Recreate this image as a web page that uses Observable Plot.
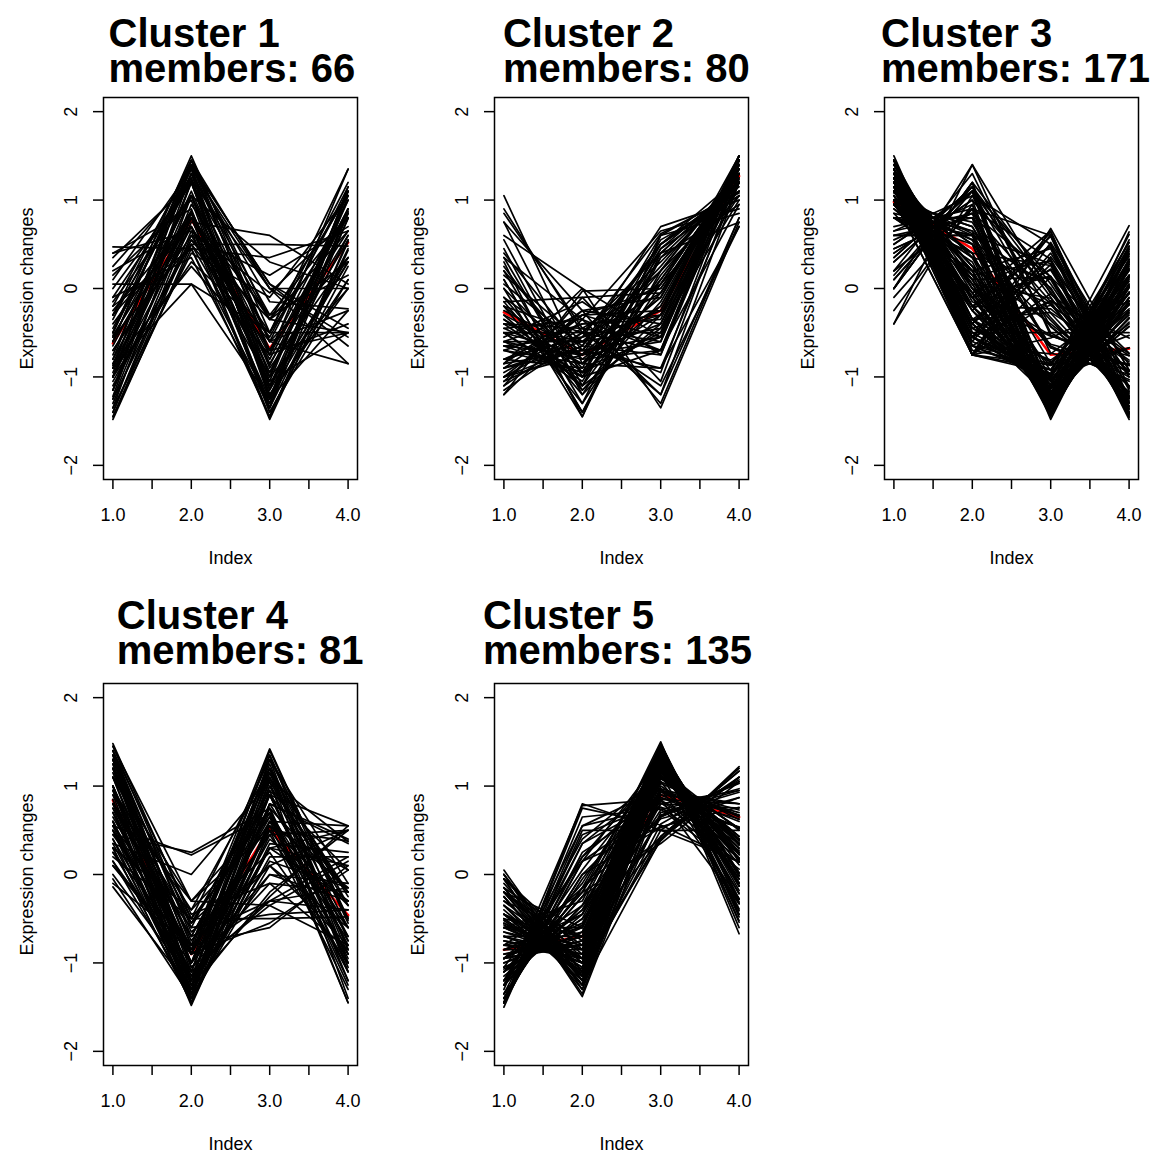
<!DOCTYPE html>
<html>
<head>
<meta charset="utf-8">
<script src="https://cdn.jsdelivr.net/npm/d3@7"></script>
<script src="https://cdn.jsdelivr.net/npm/@observablehq/plot@0.6"></script>
<style>
  html, body { margin: 0; padding: 0; background: #fff; }
  #wrap { position: relative; width: 1171px; height: 1153px; overflow: hidden; background: #fff; }
</style>
</head>
<body>
<div id="wrap"></div>
<script>
// Time points (Index)
const xs = [1, 2, 3, 4];
const xTicks = [1, 1.5, 2, 2.5, 3, 3.5, 4];
const yTicks = [-2, -1, 0, 1, 2];
const clusterNames = ["Cluster 1", "Cluster 2", "Cluster 3", "Cluster 4", "Cluster 5"];
const memberCounts = [66, 80, 171, 81, 135];

// Centroid (red) line for each cluster
const centroids = [
  [-0.62, 0.78, -0.68, 0.52],
  [-0.27, -0.75, -0.25, 1.27],
  [0.98, 0.45, -0.75, -0.68],
  [0.84, -0.9, 0.52, -0.46],
  [-0.85, -0.7, 0.9, 0.65]
];

// Member profiles, cluster 1
const cluster1 = [
  [-0.5,1.5,-0.5,-0.5],[-0.6,1.45,-0.6,-0.25],[-0.85,1.1,-0.85,0.6],[-1.48,0.5,0.5,0.48],[-1.3,0.8,-0.3,0.8],
  [-0.9,0.05,-0.5,1.35],[-1.1,0.55,-0.55,1.1],[-0.3,1.2,-1.2,0.3],[-0.87,0.87,-0.87,0.87],[-0.53,0.88,-1.14,0.79],
  [-1.0,0.3,-0.5,1.2],[0.47,0.45,-1.45,0.53],[0.4,0.9,-1.4,0.1],[0.15,1.0,-1.4,0.25],[-0.1,1.22,-1.22,0.1],
  [-1.35,1.05,0.3,0.0],[-1.22,1.22,0.0,0.0],[-1.4,0.75,0.6,0.05],[-1.0,1.4,0.05,-0.45],[-0.9,1.45,0.0,-0.55],
  [0.1,1.35,-0.6,-0.85],[-0.2,1.4,-0.7,-0.5],[-1.45,0.45,0.35,0.65],[-1.25,0.95,-0.35,0.65],[-1.0,1.05,-0.7,0.65],
  [-0.7,0.6,-1.0,1.1],[-0.4,0.8,-1.3,0.9],[-0.2,0.45,-1.3,1.05],[-0.85,0.25,-0.75,1.35],[0.2,0.7,-1.45,0.55],
  [0.4,0.65,-1.48,0.43],[-0.5,1.3,-1.1,0.3],[-0.3,1.45,-0.75,-0.4],[0.0,1.2,-1.2,0.0],[-1.35,0.4,-0.1,1.05],
  [-1.45,0.6,0.15,0.7],[-1.0,1.38,-0.15,-0.23],[-0.8,1.4,0.05,-0.65],[-1.15,1.2,-0.35,0.3],[-0.6,1.45,-0.35,-0.5],
  [-1.15,0.8,-0.5,0.85],[-0.3,0.7,-1.25,0.85],[0.05,0.05,-1.25,1.15],[-0.1,0.35,-1.35,1.1],[-0.8,0.85,-0.95,0.9],
  [-1.05,0.5,-0.6,1.15],[-0.5,1.35,0.0,-0.85],[0.35,1.2,-1.05,-0.5],[-0.65,1.05,-0.95,0.55],[-1.0,0.7,-0.7,1.0],
  [-0.7,0.7,-1.0,1.0],[-0.25,0.8,-1.35,0.8],[-0.55,1.05,-1.1,0.6],[-1.0,0.85,-0.75,0.9],[-1.25,0.55,-0.35,1.05],
  [-0.45,1.25,-1.15,0.35],[-0.75,1.3,-0.9,0.35],[-0.95,1.2,-0.6,0.35],[-1.15,1.3,-0.3,0.15],[-0.15,1.05,-1.35,0.45],
  [-0.55,0.5,-1.05,1.1],[-1.4,0.65,-0.05,0.8],[0.25,1.25,-1.25,-0.25],[-0.35,1.35,-1.0,0.0],[-0.9,0.8,-0.8,0.9],
  [-0.6,0.85,-1.1,0.85]
];

// Member profiles, cluster 2
const cluster2 = [
  [-0.5,-0.5,-0.5,1.5],[-0.4,-0.6,-0.45,1.45],[-0.7,-0.4,-0.35,1.45],[-0.3,-0.75,-0.4,1.45],[-0.6,-0.6,-0.25,1.45],
  [0.3,-1.45,0.4,0.75],[0.1,-1.4,0.2,1.1],[-0.15,-1.2,0.15,1.2],[0.0,-1.45,0.6,0.85],[-0.4,-1.0,0.1,1.3],
  [1.05,-0.85,-0.9,0.7],[0.9,-0.5,-1.1,0.7],[0.75,-0.25,-1.3,0.8],[0.6,0.0,-1.35,0.75],[0.55,-1.1,-0.45,1.0],
  [0.2,-0.8,-0.7,1.3],[-0.9,-0.7,0.5,1.1],[-1.05,-0.65,0.7,1.0],[-1.2,-0.35,0.65,0.9],[-0.8,-0.9,0.6,1.1],
  [-0.6,-1.0,0.55,1.05],[-1.1,-0.5,0.4,1.2],[-1.0,-0.3,0.0,1.3],[-0.9,-0.6,0.2,1.3],[-1.1,-0.1,-0.05,1.25],
  [-0.85,0.0,-0.55,1.4],[-1.2,-0.03,0.0,1.23],[-0.35,-0.85,-0.3,1.5],[0.0,-0.9,-0.55,1.45],[-0.2,-0.5,-0.7,1.4],
  [-0.45,-0.85,-0.1,1.4],[-0.65,-0.75,0.05,1.35],[0.4,-0.7,-0.9,1.2],[0.15,-0.6,-0.95,1.4],[-0.45,-0.35,-0.7,1.5],
  [0.45,-1.2,-0.3,1.05],[0.2,-1.3,0.05,1.05],[-0.5,-1.05,0.35,1.2],[-0.2,-0.95,-0.2,1.35],[0.85,-0.45,-1.2,0.8],
  [-1.15,-0.55,0.62,1.08],[-0.85,-0.7,0.25,1.3],[-0.8,-0.4,-0.3,1.5],[-0.35,-1.0,-0.05,1.4],[0.35,-0.35,-1.2,1.2],
  [-0.1,-1.15,-0.15,1.4],[-1.05,-0.25,-0.1,1.4],[-0.55,-0.15,-0.75,1.45],[0.75,-1.0,-0.7,0.95],[-0.2,-1.3,0.45,1.05],
  [-0.95,-0.45,0.05,1.35],[0.05,-0.65,-0.75,1.35],[-0.65,-0.95,0.4,1.2],[-0.15,-0.1,-1.05,1.3],
  [-0.6,-0.8,-0.1,1.5],[-0.8,-0.55,-0.05,1.4],[-0.5,-0.75,-0.2,1.45],[-0.7,-0.85,0.2,1.35],[-1.0,-0.5,0.3,1.2],
  [-0.3,-1.1,0.1,1.3],[0.25,-0.95,-0.5,1.2],[-0.1,-0.75,-0.6,1.45],[-0.65,-0.55,-0.3,1.5],[-0.9,-0.3,-0.25,1.45],
  [-0.7,-0.95,0.45,1.2],[-0.5,-1.1,0.5,1.1],[0.1,-1.4,0.35,0.95],[-0.25,-0.7,-0.55,1.5],[-1.0,-0.75,0.5,1.25],
  [-0.85,-0.25,-0.4,1.5],[-0.4,-0.45,-0.6,1.45],[0.35,-1.15,-0.4,1.2],[-1.0,-0.65,0.5,1.15],[-0.6,-0.3,-0.55,1.45]
];

// Member profiles, cluster 3
const cluster3 = [
  [1.5,-0.5,-0.5,-0.5],[1.0,0.7,-0.67,-1.03],[1.0,0.7,-1.03,-0.67],[0.65,1.05,-0.73,-0.97],[1.08,0.62,-0.85,-0.85],
  [1.1,0.5,-0.43,-1.17],[1.1,0.5,-1.17,-0.43],[0.5,1.1,-0.43,-1.17],[0.5,1.1,-1.17,-0.43],[1.25,0.35,-0.67,-0.93],
  [1.25,0.35,-0.93,-0.67],[0.8,0.8,-0.33,-1.27],[0.8,0.8,-1.27,-0.33],[1.25,0.25,-0.4,-1.1],[1.25,0.25,-1.1,-0.4],
  [0.95,0.55,-0.17,-1.33],[0.95,0.55,-1.33,-0.17],[0.35,1.15,-0.28,-1.22],[0.35,1.15,-1.22,-0.28],[1.35,0.15,-0.63,-0.87],
  [1.2,0.2,-0.18,-1.22],[1.2,0.2,-1.22,-0.18],[0.4,1.0,-0.04,-1.36],[0.4,1.0,-1.36,-0.04],[1.4,0.0,-0.53,-0.87],
  [1.4,0.0,-0.87,-0.53],[0.8,0.6,0.01,-1.41],[0.8,0.6,-1.41,0.01],[0.0,1.4,-0.53,-0.87],[1.25,0.05,-0.11,-1.19],
  [1.25,0.05,-1.19,-0.11],[0.95,0.35,0.1,-1.4],[0.95,0.35,-1.4,0.1],[1.45,-0.15,-0.54,-0.76],[0.15,1.15,-0.01,-1.29],
  [1.4,-0.2,-0.23,-0.97],[1.4,-0.2,-0.97,-0.23],[1.1,0.1,0.13,-1.33],[1.1,0.1,-1.33,0.13],[0.6,0.6,0.28,-1.48],
  [0.6,0.6,-1.48,0.28],[0.1,1.1,0.13,-1.33],[0.1,1.1,-1.33,0.13],[0.8,0.4,0.26,-1.46],[1.45,-0.35,-0.27,-0.83],
  [1.45,-0.35,-0.83,-0.27],[1.2,-0.1,0.14,-1.24],[1.2,-0.1,-1.24,0.14],[0.95,0.15,0.31,-1.41],[0.95,0.15,-1.41,0.31],
  [1.45,-0.45,-0.19,-0.81],[1.45,-0.45,-0.81,-0.19],[1.2,-0.2,0.21,-1.21],[1.2,-0.2,-1.21,0.21],[0.8,0.2,0.45,-1.45],
  [0.8,0.2,-1.45,0.45],[-0.4,1.4,-0.06,-0.94],[1.45,-0.55,-0.14,-0.76],[1.25,-0.35,0.22,-1.12],[1.25,-0.35,-1.12,0.22],
  [0.95,-0.05,0.47,-1.37],[0.95,-0.05,-1.37,0.47],[1.45,-0.65,-0.06,-0.74],[1.45,-0.65,-0.74,-0.06],[1.2,-0.4,0.33,-1.13],
  [1.2,-0.4,-1.13,0.33],[1.0,-0.2,0.49,-1.29],[1.45,-0.75,-0.14,-0.56],[1.45,-0.75,-0.56,-0.14],[1.25,-0.55,0.27,-0.97],
  [1.25,-0.55,-0.97,0.27],[0.95,-0.25,0.59,-1.29],[1.35,-0.75,0.13,-0.73],[1.2,-0.6,0.4,-1.0],[1.2,-0.6,-1.0,0.4],
  [1.0,-0.4,0.64,-1.24],[1.0,-0.4,-1.24,0.64],[1.25,-0.75,0.36,-0.86],[1.25,-0.75,-0.86,0.36],[1.05,-0.55,0.61,-1.11],
  [1.05,-0.55,-1.11,0.61],[1.15,-0.75,0.52,-0.92],[1.15,-0.75,-0.92,0.52],[1.0,-0.75,0.68,-0.93],[1.0,-0.75,-0.96,0.71],
  [-0.4,1.05,0.5,-1.15],[-0.25,0.95,-1.25,0.55],[-0.1,0.9,0.6,-1.4],[0.0,1.2,-1.35,0.15],[0.2,1.3,-0.5,-1.0],
  [0.85,-0.1,0.65,-1.4],[0.0,1.2,0.05,-1.25],[0.0,1.2,-1.25,0.05],[0.2,0.9,0.33,-1.43],[0.2,0.9,-1.43,0.33],
  [0.3,1.1,-0.1,-1.3],[0.3,1.1,-1.3,-0.1],[0.45,0.85,0.13,-1.43],[0.45,0.85,-1.43,0.13],
  [0.85,0.65,-1.35,-0.15],[1.1,0.4,-1.25,-0.25],[1.0,0.4,-1.36,-0.04],[1.3,0.1,-1.1,-0.3],[1.1,0.2,-1.32,0.02],
  [1.3,-0.1,-1.14,-0.06],[1.35,-0.25,-1.05,-0.05],[1.35,-0.35,-1.03,0.03],[1.35,-0.45,-0.98,0.08],[1.35,-0.55,-0.92,0.12],
  [1.35,-0.65,-0.85,0.15],[1.3,-0.7,-0.87,0.27],[1.0,0.6,-1.22,-0.38],[0.7,0.9,-1.26,-0.34],[0.55,0.95,-1.33,-0.17],
  [0.6,0.8,-1.41,0.01],[0.8,0.5,-1.44,0.14],[0.9,0.3,-1.43,0.23],[1.05,0.05,-1.35,0.25],[1.1,-0.1,-1.3,0.3],
  [1.15,-0.25,-1.23,0.33],[1.15,-0.35,-1.19,0.39],[1.25,-0.55,-1.0,0.3],[1.25,-0.65,-0.98,0.38],[1.15,-0.65,-1.02,0.52],
  [1.15,0.25,-1.26,-0.14],[1.35,-0.05,-1.05,-0.25],[1.2,0.0,-1.25,0.05],[0.9,0.1,-1.42,0.42],[1.0,-0.1,-1.34,0.44],
  [1.1,-0.4,-1.18,0.48],[1.15,-0.55,-1.08,0.48],[1.3,-0.2,-1.13,0.03],[1.3,-0.4,-1.05,0.15],[1.3,-0.5,-1.0,0.2],
  [0.95,0.75,-0.65,-1.05],[0.95,0.65,-0.36,-1.24],[0.65,0.85,-0.15,-1.35]
];

// Member profiles, cluster 4
const cluster4 = [
  [1.48,-0.5,-0.5,-0.48],[1.4,-0.7,-0.3,-0.4],[1.3,-1.0,0.0,-0.3],[1.2,-1.2,0.3,-0.3],[0.9,-1.35,0.6,-0.15],
  [0.6,-1.48,0.5,0.38],[0.5,-1.45,0.45,0.5],[0.6,-1.3,0.9,-0.2],[0.25,-1.2,1.2,-0.25],[-0.1,-0.8,1.42,-0.52],
  [0.1,-1.0,1.4,-0.5],[0.4,-1.1,1.2,-0.5],[0.8,-0.9,0.9,-0.8],[0.9,-0.55,0.75,-1.1],[0.8,-0.55,0.95,-1.2],
  [0.55,-0.6,1.1,-1.05],[0.3,-0.4,1.2,-1.1],[0.45,0.25,0.75,-1.45],[0.35,0.0,1.05,-1.4],[0.55,0.22,0.68,-1.45],
  [1.1,-0.3,0.5,-1.3],[1.3,-0.55,0.25,-1.0],[1.45,-0.6,-0.45,-0.4],[1.35,-0.9,-0.3,-0.15],[1.2,-1.1,-0.3,0.2],
  [1.0,-1.3,-0.2,0.5],[0.8,-1.4,0.1,0.5],[0.95,-1.25,-0.25,0.55],[0.6,-1.4,0.3,0.5],[0.3,-1.45,0.6,0.55],
  [-0.14,-1.3,1.07,0.37],[0.0,-1.2,1.3,-0.1],[0.1,-0.9,1.35,-0.55],[0.5,-1.2,1.05,-0.35],[0.7,-1.0,1.0,-0.7],
  [1.0,-1.0,0.7,-0.7],[1.1,-1.2,0.4,-0.3],[1.3,-0.8,0.1,-0.6],[1.0,-0.9,0.65,-0.75],[0.8,-0.3,0.7,-1.2],
  [0.45,-0.8,1.2,-0.85],[1.3,-0.8,-0.6,0.1],[1.4,-0.9,-0.55,0.05],[1.25,-1.05,-0.35,0.15],[0.2,-0.5,1.3,-1.0],
  [0.85,-1.45,0.35,0.25],[1.0,-1.4,0.2,0.2],[0.3,-1.45,0.8,0.35],[0.75,-0.7,0.9,-0.95],[0.15,-1.1,1.3,-0.35],
  [1.45,-0.3,-0.35,-0.8],[0.55,-1.35,1.0,-0.2],[1.2,-0.75,0.45,-0.9],[-0.05,-1.4,0.9,0.55],
  [1.1,-1.0,0.5,-0.6],[1.25,-1.25,0.15,-0.15],[0.95,-1.15,0.8,-0.6],[0.7,-1.25,0.75,-0.2],[1.15,-0.85,0.6,-0.9],
  [0.6,-1.1,1.1,-0.6],[0.35,-1.3,1.15,-0.2],[1.0,-1.4,0.3,0.1],[1.35,-0.65,0.1,-0.8],[1.35,-1.05,-0.1,-0.2],
  [0.75,-1.35,0.55,0.05],[0.5,-0.9,1.25,-0.85],[0.8,-0.7,0.9,-1.0],[0.25,-0.85,1.35,-0.75],[1.0,-1.2,0.55,-0.35],
  [0.65,-0.9,1.15,-0.9],[1.4,-0.45,-0.1,-0.85],[1.1,-0.5,0.65,-1.25],[0.4,-1.4,0.95,0.05],[1.3,-1.2,0.0,-0.1],
  [0.15,-1.35,0.8,0.4],[0.95,-0.4,0.55,-1.1]
];

// Member profiles, cluster 5
const cluster5 = [
  [-0.7,-1.0,1.03,0.67],[-0.7,-1.0,0.67,1.03],[-1.05,-0.65,0.97,0.73],[-1.05,-0.65,0.73,0.97],[-0.85,-0.85,1.08,0.62],
  [-0.5,-1.1,1.17,0.43],[-0.5,-1.1,0.43,1.17],[-1.1,-0.5,1.17,0.43],[-1.1,-0.5,0.43,1.17],[-0.35,-1.25,0.93,0.67],
  [-1.25,-0.35,0.93,0.67],[-1.25,-0.35,0.67,0.93],[-0.25,-1.25,1.1,0.4],[-0.25,-1.25,0.4,1.1],[-1.25,-0.25,1.1,0.4],
  [-1.25,-0.25,0.4,1.1],[-0.55,-0.95,1.33,0.17],[-0.95,-0.55,1.33,0.17],[-1.35,-0.15,0.87,0.63],[-1.35,-0.15,0.63,0.87],
  [-0.2,-1.2,1.22,0.18],[-1.2,-0.2,1.22,0.18],[-1.2,-0.2,0.35,1.05],[-1.4,0.0,0.87,0.53],[-1.4,0.0,0.53,0.87],
  [-0.6,-0.8,1.41,-0.01],[-0.8,-0.6,1.41,-0.01],[-1.25,0.05,1.19,0.11],[-1.45,0.15,0.76,0.54],[-1.45,0.15,0.54,0.76],
  [-0.35,-0.95,1.4,-0.1],[-0.95,-0.35,1.4,-0.1],[-1.4,0.2,0.97,0.23],[-0.1,-1.1,1.33,-0.13],[-1.1,-0.1,1.33,-0.13],
  [-0.6,-0.6,1.48,-0.28],[-1.45,0.25,0.84,0.36],[-1.45,0.35,0.83,0.27],[0.05,-1.2,1.24,-0.09],[-0.95,-0.15,1.41,-0.31],
  [-1.45,0.45,0.81,0.19],[-0.2,-0.8,1.45,-0.45],[-0.8,-0.2,1.45,-0.45],[-1.2,0.2,1.21,-0.21],[-1.45,0.55,0.76,0.14],
  [-0.05,-0.85,1.42,-0.52],[-1.05,0.15,1.31,-0.41],[-1.45,0.65,0.74,0.06],[-0.2,-0.6,1.47,-0.67],[-1.2,0.4,1.13,-0.33],
  [-1.45,0.75,0.56,0.14],[-1.25,0.55,0.97,-0.27],[-0.05,-1.38,0.9,0.53],[-0.25,-1.3,0.95,0.6],[-0.45,-1.2,0.7,0.95],
  [-1.45,0.8,0.5,0.15],[-1.3,0.78,0.85,-0.33],[-0.6,-0.3,1.5,-0.6],[-1.5,0.5,0.5,0.5],[-0.9,-0.8,0.65,1.05],
  [-0.75,-0.9,0.85,0.8],[-0.95,-0.75,0.9,0.8],[-0.65,-0.95,1.2,0.4],[-1.0,-0.7,1.2,0.5],[-0.4,-1.15,1.3,0.25],
  [-1.15,-0.4,0.8,0.75],[-0.8,-0.95,0.95,0.8],[-1.2,-0.45,0.95,0.7],[-0.55,-1.05,1.25,0.35],[-0.95,-0.8,0.8,0.95],
  [-0.3,-1.0,1.35,-0.05],[-1.35,0.35,1.05,-0.05],[-0.2,-1.25,1.15,0.3],[-1.4,-0.05,1.1,0.35],
  [-0.75,-0.95,0.65,1.05],[-0.95,-0.75,1.05,0.65],[-0.7,-0.9,1.26,0.34],[-0.9,-0.7,0.4,1.2],[-0.45,-1.15,0.5,1.1],
  [-0.45,-1.05,1.28,0.22],[-0.35,-1.15,1.21,0.29],[-1.1,-0.4,1.25,0.25],[-0.45,-0.95,1.38,0.02],[-0.95,-0.45,1.38,0.02],
  [-0.15,-1.25,1.17,0.23],[-0.05,-1.35,1.0,0.4],[-0.15,-1.15,1.29,0.01],[0.0,-1.3,1.13,0.17],[-0.45,-0.85,1.43,-0.13],
  [-0.85,-0.45,1.43,-0.13],[-0.2,-1.0,1.38,-0.18],[0.0,-1.2,1.25,-0.05],[-0.5,-0.7,1.48,-0.28],[-0.2,-0.9,1.43,-0.33],
  [0.0,-1.1,1.32,-0.22],[-0.05,-0.95,1.39,-0.39],[-0.3,-0.7,1.48,-0.48],[-0.15,-0.75,1.44,-0.54],[-0.8,-0.8,1.27,0.33],
  [-0.6,-1.0,0.38,1.22],[-0.65,-0.85,1.35,0.15],[-0.85,-0.65,1.35,0.15],[-0.7,-0.7,1.42,-0.02],[-0.6,-1.0,1.22,0.38],
  [-1.0,-0.6,1.22,0.38],[-0.57,-1.07,1.12,0.52],[-1.07,-0.57,1.12,0.52],[-0.52,-1.12,0.57,1.07]
];

const clusters = [cluster1, cluster2, cluster3, cluster4, cluster5];

// layout (pixels)
const W = 391, H = 567;
const mL = 103, mR = 34, mT = 97, mB = 88;
const colLeft = [0, 390.6, 781.2];
const rowTop = [0, 586];
const titleDx = [5, 8.4, -3.5, 13.3, -11.6];
const titleDy = [-16, -16, -16, -20, -20];

const font = "'Liberation Sans', Arial, Helvetica, sans-serif";
const fmtY = d => d < 0 ? "\u2212" + Math.abs(d) : String(d);

const wrap = document.getElementById("wrap");

clusters.forEach((rows, k) => {
  const lines = rows.flatMap((r, i) => r.map((v, j) => ({id: i, x: xs[j], y: v})));
  const center = centroids[k].map((v, j) => ({x: xs[j], y: v}));
  const chart = Plot.plot({
    width: W, height: H,
    marginLeft: mL, marginRight: mR, marginTop: mT, marginBottom: mB,
    style: {fontFamily: font, background: "transparent", overflow: "visible"},
    x: {domain: [0.88, 4.12], label: null},
    y: {domain: [-2.16, 2.16], label: null},
    marks: [
      Plot.line(center, {x: "x", y: "y", stroke: "#ff0000", strokeWidth: 2.6}),
      Plot.line(lines, {x: "x", y: "y", z: "id", stroke: "#000", strokeWidth: 1.7}),
      Plot.frame({stroke: "#000", strokeWidth: 1.5}),
      Plot.axisX({ticks: xTicks, tickSize: 10, tickPadding: 19, strokeWidth: 1.5, fontSize: 18,
        tickFormat: d => Number.isInteger(d) ? d.toFixed(1) : "", label: null}),
      Plot.axisY({ticks: yTicks, tickSize: 10, strokeWidth: 1.5, tickFormat: () => "", label: null}),
      Plot.text(yTicks, {y: d => d, frameAnchor: "left", dx: -32, rotate: -90, text: fmtY,
        fontSize: 18, textAnchor: "middle", lineAnchor: "middle", fill: "#000"}),
      Plot.text(["Expression changes"], {frameAnchor: "left", dx: -76, rotate: -90, fontSize: 18,
        textAnchor: "middle", lineAnchor: "middle", fill: "#000"}),
      Plot.text(["Index"], {frameAnchor: "bottom", dy: 79, fontSize: 18,
        textAnchor: "middle", lineAnchor: "middle", fill: "#000"}),
      Plot.text([clusterNames[k] + "\nmembers: " + memberCounts[k]], {frameAnchor: "top-left",
        dx: titleDx[k], dy: titleDy[k], lineHeight: 0.875,
        fontSize: 40, fontWeight: "bold", textAnchor: "start", lineAnchor: "bottom", fill: "#000"})
    ]
  });
  chart.style.position = "absolute";
  chart.style.left = colLeft[k % 3] + "px";
  chart.style.top = rowTop[Math.floor(k / 3)] + "px";
  wrap.appendChild(chart);
});
</script>
</body>
</html>
